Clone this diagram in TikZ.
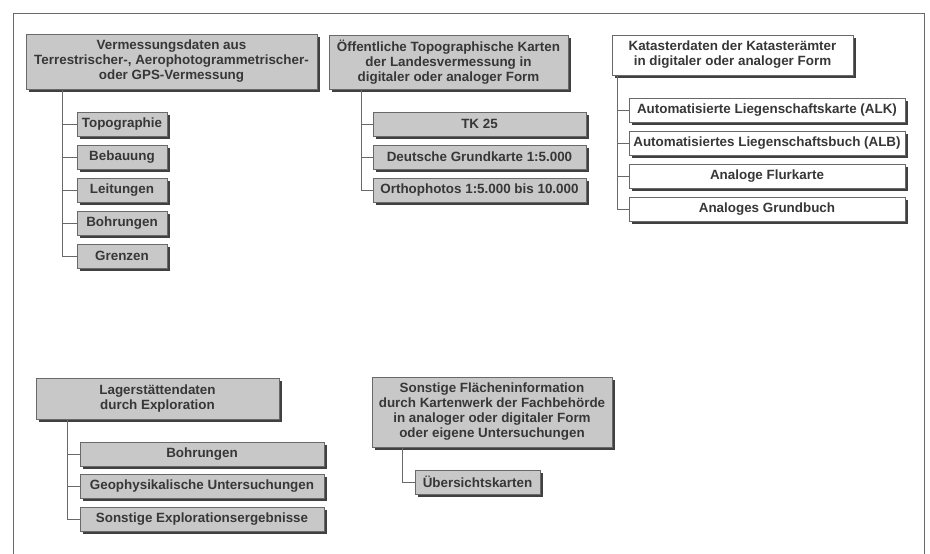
\documentclass[tikz,border=0pt]{standalone}
\usepackage{fontspec}
\setmainfont{Liberation Sans}
\usetikzlibrary{shadows}
\definecolor{boxgray}{RGB}{200,200,200}
\definecolor{textgray}{RGB}{55,55,55}
\definecolor{linegray}{RGB}{105,105,105}
\tikzset{
  box/.style={draw=linegray, fill=boxgray, text=textgray, align=center,
    font=\fontsize{13.4}{15}\selectfont\bfseries, inner sep=1pt,
    general shadow={fill=black!75, shadow xshift=2.5pt, shadow yshift=-2.5pt}},
  whitebox/.style={box, fill=white},
  conn/.style={draw=linegray, line width=0.8pt}
}
\begin{document}
\begin{tikzpicture}[x=1pt,y=-1pt]
    \useasboundingbox (0,0) rectangle (930,554);
    \draw[linegray, line width=1pt] (13,554) -- (13,13) -- (924,13) -- (924,554);

    % Vermessungsdaten
    \node[box, minimum width=291, minimum height=55] (verm) at (171.5,61.5)
      {Vermessungsdaten aus\\Terrestrischer-, Aerophotogrammetrischer-\\oder GPS-Vermessung};
    \foreach \name/\txt [count=\i] in {topo/Topographie, beb/Bebauung, leit/Leitungen, bohr/Bohrungen, grenz/Grenzen}{
      \node[box, minimum width=90, minimum height=24] (\name) at (122,{124+33*(\i-1)}) {\txt};
      \draw[conn] ([xshift=37pt]verm.south west) |- (\name.west);
    }

    % Topographische Karten
    \node[box, minimum width=239, minimum height=54] (topk) at (448.5,62)
      {Öffentliche Topographische Karten\\der Landesvermessung in\\digitaler oder analoger Form};
    \foreach \name/\txt [count=\i] in {tk/TK 25, dgk/Deutsche Grundkarte 1:5.000, ortho/Orthophotos 1:5.000 bis 10.000}{
      \node[box, minimum width=213, minimum height=24] (\name) at (479.5,{124+33*(\i-1)}) {\txt};
      \draw[conn] ([xshift=33pt]topk.south west) |- (\name.west);
    }

    % Katasterdaten
    \node[whitebox, minimum width=241, minimum height=40] (kat) at (732.5,55)
      {Katasterdaten der Katasterämter\\in digitaler oder analoger Form};
    \foreach \name/\txt [count=\i] in {alk/Automatisierte Liegenschaftskarte (ALK), alb/Automatisiertes Liegenschaftsbuch (ALB), flur/Analoge Flurkarte, grund/Analoges Grundbuch}{
      \node[whitebox, minimum width=276, minimum height=24] (\name) at (767,{110+33*(\i-1)}) {\txt};
      \draw[conn] ([xshift=6pt]kat.south west) |- (\name.west);
    }

    % Lagerstaettendaten
    \node[box, minimum width=243, minimum height=41] (lager) at (157.5,398.5)
      {Lagerstättendaten\\durch Exploration};
    \foreach \name/\txt [count=\i] in {lbohr/Bohrungen, geo/Geophysikalische Untersuchungen, expl/Sonstige Explorationsergebnisse}{
      \node[box, minimum width=244, minimum height=24] (\name) at (202,{454+32.5*(\i-1)}) {\txt};
      \draw[conn] ([xshift=32pt]lager.south west) |- (\name.west);
    }

    % Sonstige Flaecheninformation
    \node[box, minimum width=240, minimum height=70] (flaech) at (492,412)
      {Sonstige Flächeninformation\\durch Kartenwerk der Fachbehörde\\in analoger oder digitaler Form\\oder eigene Untersuchungen};
    \node[box, minimum width=125, minimum height=24] (uebers) at (477.5,482) {Übersichtskarten};
    \draw[conn] ([xshift=31pt]flaech.south west) |- (uebers.west);
\end{tikzpicture}
\end{document}
